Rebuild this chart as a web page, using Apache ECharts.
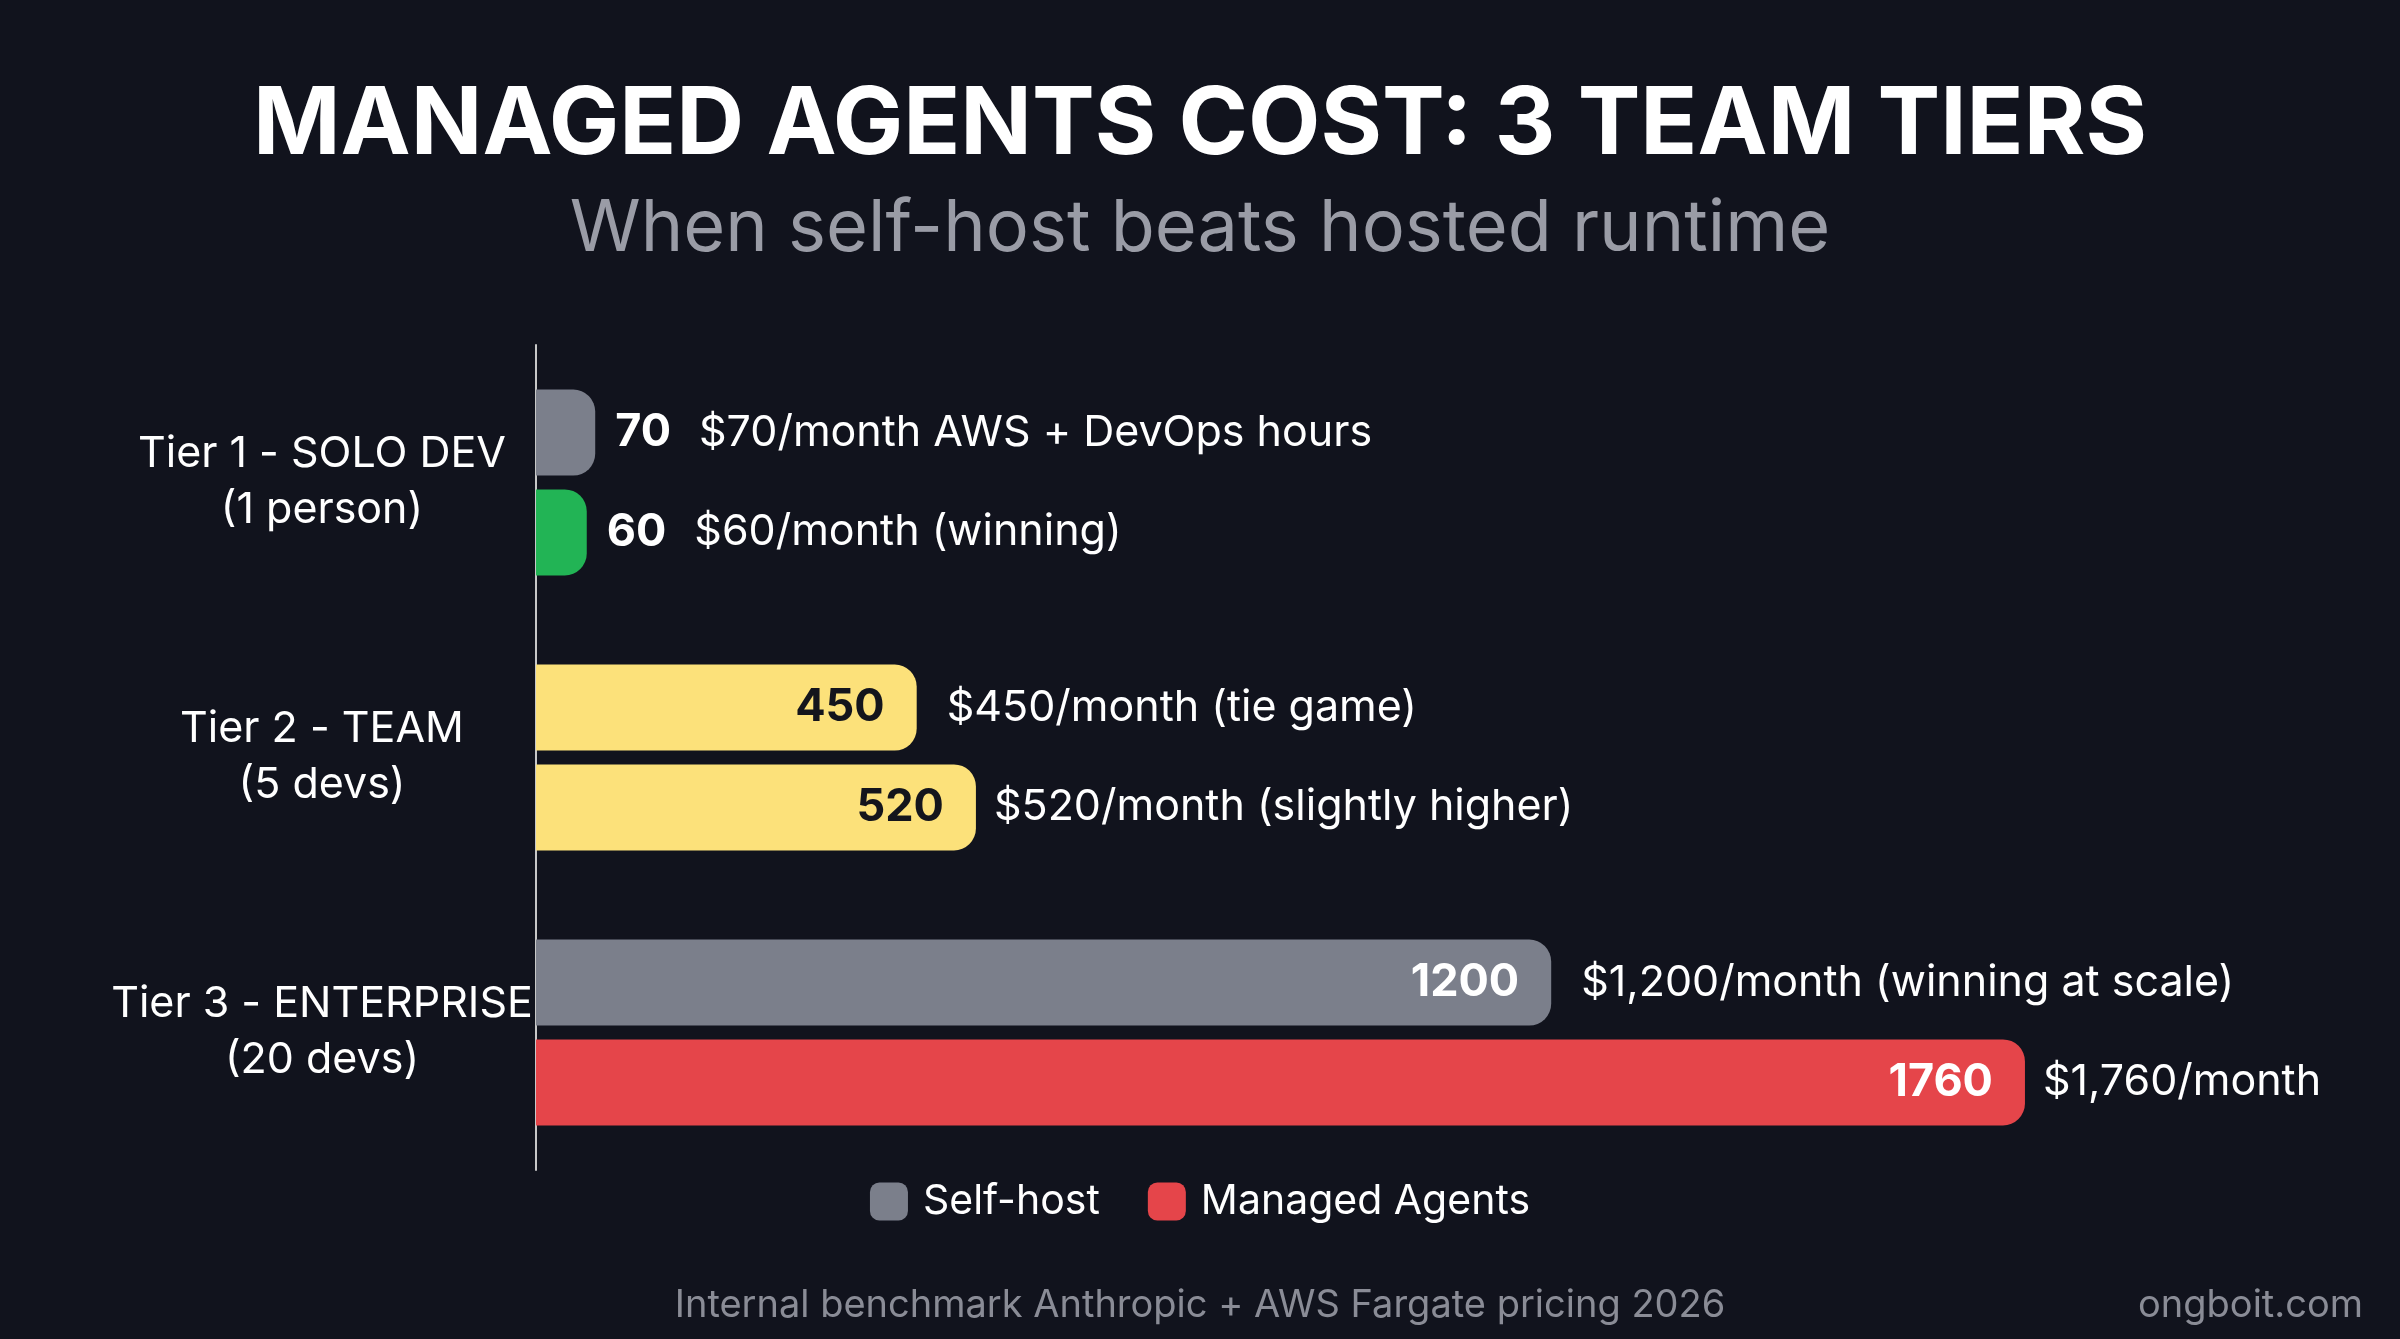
<!DOCTYPE html>
<html><head><meta charset="utf-8">
<script src="https://cdn.jsdelivr.net/npm/echarts@6/dist/echarts.min.js"></script>
<style>html,body{margin:0;background:#11131d;}#c{width:2400px;height:1339px;}</style>
</head><body><div id="c"></div>
<script>
const categories = ['Tier 1 - SOLO DEV\n(1 person)', 'Tier 2 - TEAM\n(5 devs)', 'Tier 3 - ENTERPRISE\n(20 devs)'];
const selfHost = [70, 450, 1200];
const managed = [60, 520, 1760];
const selfDesc = ['$70/month AWS + DevOps hours', '$450/month (tie game)', '$1,200/month (winning at scale)'];
const managedDesc = ['$60/month (winning)', '$520/month (slightly higher)', '$1,760/month'];
const selfColors = ['#7b7f8b', '#fce17a', '#7b7f8b'];
const managedColors = ['#22b455', '#fce17a', '#e5454a'];
const F = 'Inter, "Noto Sans", sans-serif';
const W = '#ffffff';
function valColor(c){ return c === '#fce17a' ? '#14151c' : '#ffffff'; }
function mainData(vals, cols, descs){
  return vals.map((v,i)=>({value:v, itemStyle:{color:cols[i]},
    label: i===0 ? {position:'right', distance:20, formatter:'{b|'+v+'}{t|'+descs[i]+'}'} :
      {position:'insideRight', distance:4, formatter:'{b|'+v+'}', rich:{b:{color:valColor(cols[i]),fontSize:45,fontWeight:'bold',fontFamily:F}}}}));
}
function ovData(vals, descs){
  return vals.map((v,i)=>({value:0, label:{show:i!==0, formatter:descs[i]}}));
}
const rich = {b:{color:W,fontSize:45,fontWeight:'bold',fontFamily:F,padding:[0,28,0,0]}, t:{color:W,fontSize:43,fontFamily:F}};
const chart = echarts.init(document.getElementById('c'));
chart.setOption({
  backgroundColor:'#11131d',
  title:[
    {text:'MANAGED AGENTS COST: 3 TEAM TIERS', left:'center', top:74, textStyle:{color:W,fontSize:94,fontWeight:'bold',fontFamily:F}},
    {text:'When self-host beats hosted runtime', left:'center', top:188, textStyle:{color:'#9a9ca6',fontSize:72,fontWeight:'normal',fontFamily:F}},
    {text:'Internal benchmark Anthropic + AWS Fargate pricing 2026', left:'center', top:1282, textStyle:{color:'#8a8c96',fontSize:38,fontWeight:'normal',fontFamily:F}},
    {text:'ongboit.com', right:32, top:1282, textStyle:{color:'#8a8c96',fontSize:38,fontWeight:'normal',fontFamily:F}}
  ],
  legend:{data:['Self-host','Managed Agents'], bottom:112, left:'center', itemWidth:38, itemHeight:38, itemGap:48, icon:'roundRect',
    textStyle:{color:W,fontSize:41,fontFamily:F,padding:[0,0,0,10]}},
  grid:{left:536, right:172, top:345, bottom:169},
  xAxis:{type:'value', min:0, max:2000, show:false},
  yAxis:{type:'category', data:categories, inverse:true,
    axisLine:{show:true,lineStyle:{color:'#c8c8c8',width:2}}, axisTick:{show:false},
    axisLabel:{color:W,fontSize:43,fontFamily:F,margin:214,lineHeight:56,align:'center'}},
  series:[
    {name:'Self-host', type:'bar', stack:'s', data:mainData(selfHost,selfColors,selfDesc), color:'#7b7f8b',
      barWidth:86, barGap:'16%', barCategoryGap:'35%', itemStyle:{borderRadius:[0,22,22,0]}, label:{show:true, rich:rich}},
    {name:'Managed Agents', type:'bar', stack:'m', data:mainData(managed,managedColors,managedDesc), color:'#e5454a',
      barWidth:86, itemStyle:{borderRadius:[0,22,22,0]}, label:{show:true, rich:rich}},
    {name:'sdesc', type:'bar', stack:'s', data:ovData(selfHost,selfDesc), barWidth:86, itemStyle:{color:'transparent'},
      label:{position:'right', distance:30, color:W, fontSize:43, fontFamily:F}},
    {name:'mdesc', type:'bar', stack:'m', data:ovData(managed,managedDesc), barWidth:86, itemStyle:{color:'transparent'},
      label:{position:'right', distance:18, color:W, fontSize:43, fontFamily:F}}
  ]
});
</script></body></html>
